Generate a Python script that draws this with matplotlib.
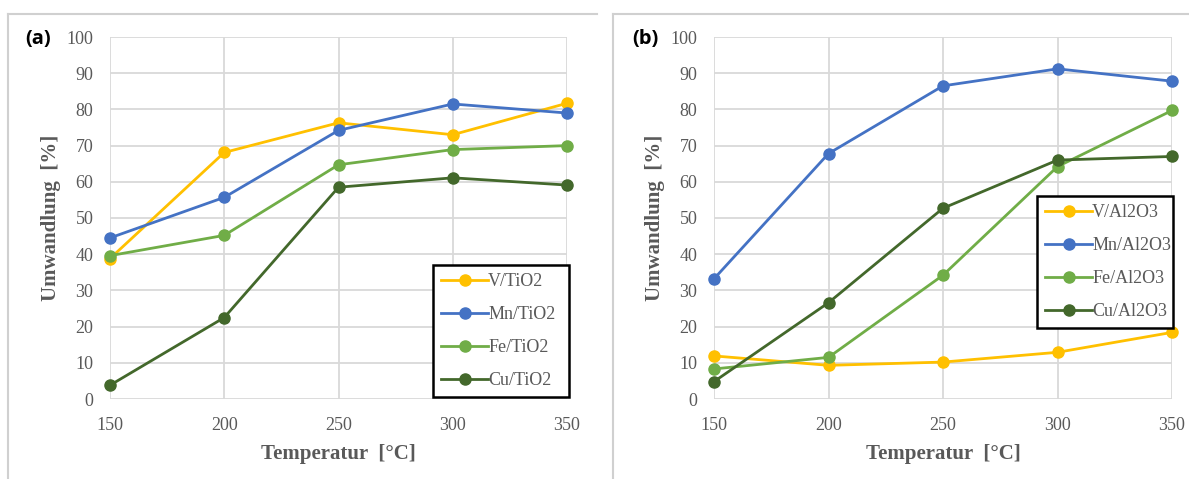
import matplotlib.pyplot as plt
from matplotlib.lines import Line2D

temps = [150, 200, 250, 300, 350]

# (a) TiO2 support
labels_a = ["V/TiO2", "Mn/TiO2", "Fe/TiO2", "Cu/TiO2"]
v_tio2 = [38.8, 68.1, 76.3, 73.0, 81.7]
mn_tio2 = [44.5, 55.7, 74.2, 81.5, 79.0]
fe_tio2 = [39.6, 45.2, 64.7, 68.9, 70.0]
cu_tio2 = [3.8, 22.5, 58.5, 61.1, 59.1]

# (b) Al2O3 support
labels_b = ["V/Al2O3", "Mn/Al2O3", "Fe/Al2O3", "Cu/Al2O3"]
v_al2o3 = [11.9, 9.3, 10.2, 12.9, 18.4]
mn_al2o3 = [33.2, 67.8, 86.5, 91.2, 87.8]
fe_al2o3 = [8.3, 11.5, 34.2, 64.2, 79.7]
cu_al2o3 = [4.8, 26.6, 52.7, 66.0, 67.0]

colors = ["#FFC000", "#4472C4", "#70AD47", "#43682B"]
grey = "#595959"
grid_c = "#D9D9D9"
serif = "Liberation Serif"

fig = plt.figure(figsize=(11.89, 4.79), dpi=100)
W, H = 1189, 479

# panel frames
fig.add_artist(Line2D([8 / W, 8 / W], [0, 1 - 14 / H], color="#D0D0D0", lw=1.5))
fig.add_artist(Line2D([8 / W, 597 / W], [1 - 14 / H, 1 - 14 / H], color="#D0D0D0", lw=1.5))
fig.add_artist(Line2D([613 / W, 613 / W], [0, 1 - 14 / H], color="#D0D0D0", lw=1.5))
fig.add_artist(Line2D([613 / W, 1], [1 - 14 / H, 1 - 14 / H], color="#D0D0D0", lw=1.5))


def panel(left_px, right_px, series, labels, tag, tag_x, leg_box):
    ax = fig.add_axes([left_px / W, 1 - 399 / H, (right_px - left_px) / W, (399 - 37) / H])
    for ys, lab, c in zip(series, labels, colors):
        ax.plot(temps, ys, color=c, lw=2.0, marker="o", ms=8, label=lab, clip_on=False, zorder=3)
    ax.set_xlim(150, 350)
    ax.set_ylim(0, 100)
    ax.set_xticks(temps)
    ax.set_yticks(range(0, 101, 10))
    ax.grid(True, color=grid_c, lw=1.3)
    ax.set_axisbelow(True)
    for s in ax.spines.values():
        s.set_visible(False)
    ax.tick_params(length=0, labelsize=13, labelcolor=grey)
    ax.tick_params(axis="y", pad=12)
    ax.tick_params(axis="x", pad=13)
    for t in ax.get_xticklabels() + ax.get_yticklabels():
        t.set_fontfamily(serif)
    ax.set_xlabel("Temperatur  [°C]", family=serif, fontsize=15, fontweight="bold", color=grey, labelpad=7)
    ax.set_ylabel("Umwandlung  [%]", family=serif, fontsize=15, fontweight="bold", color=grey, labelpad=4)
    fig.text(tag_x / W, 1 - 39 / H, tag, family="Open Sans", fontsize=14.5, fontweight="bold",
             va="center", ha="left")
    x0, y0, x1, y1 = leg_box
    leg = ax.legend(loc="lower left", bbox_to_anchor=(x0 / W, 1 - y1 / H, (x1 - x0) / W, (y1 - y0) / H),
                    bbox_transform=fig.transFigure, mode="expand", frameon=True, fancybox=False,
                    prop={"family": serif, "size": 13}, handlelength=2.6, handletextpad=0.0,
                    labelspacing=0.88, borderpad=0.45, borderaxespad=0)
    leg.get_frame().set_edgecolor("black")
    leg.get_frame().set_linewidth(1.8)
    leg.get_frame().set_alpha(1)
    for t in leg.get_texts():
        t.set_color(grey)
    return ax


panel(110, 567, [v_tio2, mn_tio2, fe_tio2, cu_tio2], labels_a, "(a)", 25, (433, 264, 569, 397))
panel(714, 1172, [v_al2o3, mn_al2o3, fe_al2o3, cu_al2o3], labels_b, "(b)", 632, (1037, 195, 1173, 328))

fig.savefig("out.png", dpi=100)
